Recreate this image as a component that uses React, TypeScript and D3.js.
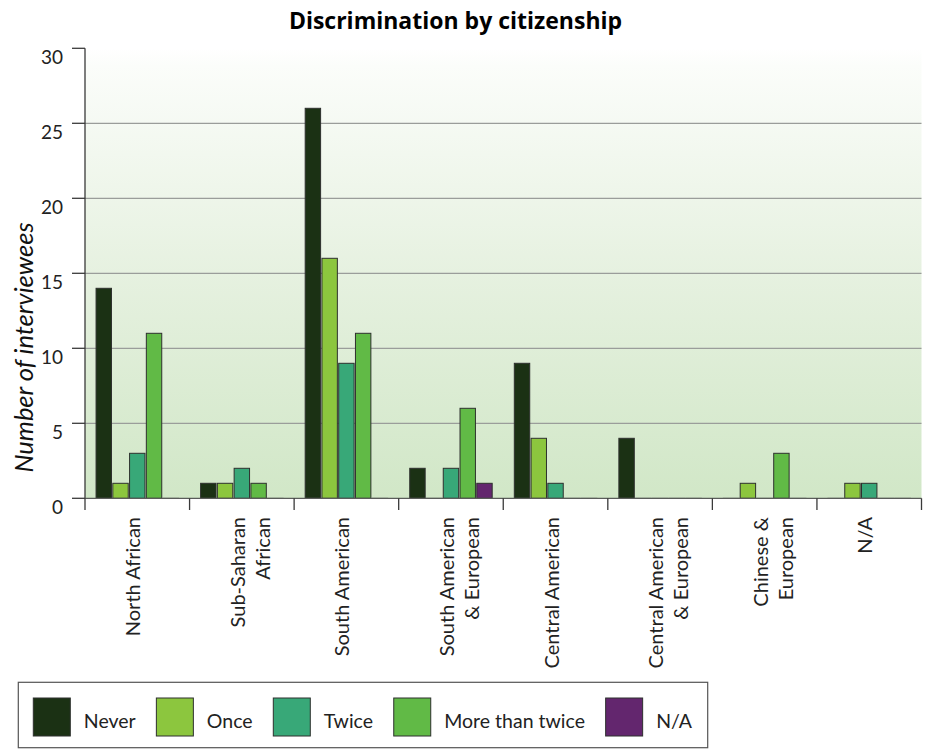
import React, { useEffect, useRef } from "react";
import * as d3 from "d3";

const categories = [
  "North African",
  "Sub-Saharan African",
  "South American",
  "South American & European",
  "Central American",
  "Central American & European",
  "Chinese & European",
  "N/A",
];
const categoryLines = [
  ["North African"],
  ["Sub-Saharan", "African"],
  ["South American"],
  ["South American", "& European"],
  ["Central American"],
  ["Central American", "& European"],
  ["Chinese &", "European"],
  ["N/A"],
];
const seriesNames = ["Never", "Once", "Twice", "More than twice", "N/A"];
const seriesColors = ["#1b3114", "#8cc63e", "#38a878", "#61ba46", "#63266e"];

const never = [14, 1, 26, 2, 9, 4, 0, 0];
const once = [1, 1, 16, 0, 4, 0, 1, 1];
const twice = [3, 2, 9, 2, 1, 0, 0, 1];
const moreThanTwice = [11, 1, 11, 6, 0, 0, 3, 0];
const notAvailable = [0, 0, 0, 1, 0, 0, 0, 0];
const seriesValues = [never, once, twice, moreThanTwice, notAvailable];

const yTicks = [0, 5, 10, 15, 20, 25, 30];

const FONT = "Lato, 'Open Sans', sans-serif";
const TITLE_FONT = "'Open Sans', sans-serif";

export default function App() {
  const ref = useRef<SVGSVGElement | null>(null);

  useEffect(() => {
    const svg = d3.select(ref.current);
    svg.selectAll("*").remove();

    const left = 85;
    const right = 921.5;
    const top = 48.3;
    const bottom = 498.3;

    const x = d3.scaleBand<string>().domain(categories).range([left, right]).paddingInner(0).paddingOuter(0);
    const x1 = d3
      .scaleBand<string>()
      .domain(seriesNames)
      .range([0, x.bandwidth()])
      .paddingInner(0.08)
      .paddingOuter(0.66);
    const y = d3.scaleLinear().domain([0, 30]).range([bottom, top]);

    const defs = svg.append("defs");
    const grad = defs
      .append("linearGradient")
      .attr("id", "bg")
      .attr("x1", 0)
      .attr("y1", 0)
      .attr("x2", 0)
      .attr("y2", 1);
    grad.append("stop").attr("offset", "0").attr("stop-color", "#ffffff");
    grad.append("stop").attr("offset", "0.04").attr("stop-color", "#fbfdfa");
    grad.append("stop").attr("offset", "0.5").attr("stop-color", "#e6f1e0");
    grad.append("stop").attr("offset", "1").attr("stop-color", "#d1e7c7");

    svg
      .append("rect")
      .attr("x", left)
      .attr("y", top)
      .attr("width", right - left)
      .attr("height", bottom - top)
      .attr("fill", "url(#bg)");

    // gridlines
    svg
      .append("g")
      .selectAll("line")
      .data(yTicks.filter((t) => t > 0 && t < 30))
      .join("line")
      .attr("x1", left)
      .attr("x2", right)
      .attr("y1", (d) => y(d))
      .attr("y2", (d) => y(d))
      .attr("stroke", "#9a9d9a")
      .attr("stroke-width", 1.3);

    // title
    svg
      .append("text")
      .attr("x", 455.5)
      .attr("y", 28.5)
      .attr("text-anchor", "middle")
      .attr("font-family", TITLE_FONT)
      .attr("font-weight", "bold")
      .attr("font-size", 23)
      .attr("fill", "#000")
      .text("Discrimination by citizenship");

    // bars
    const groups = svg
      .append("g")
      .selectAll("g")
      .data(categories)
      .join("g")
      .attr("transform", (d) => `translate(${x(d)},0)`);

    groups
      .selectAll("rect")
      .data((c) => seriesNames.map((s, si) => ({ s, si, v: seriesValues[si][categories.indexOf(c)] })))
      .join("rect")
      .attr("x", (d) => x1(d.s)!)
      .attr("y", (d) => y(d.v))
      .attr("width", x1.bandwidth())
      .attr("height", (d) => Math.max(0.01, bottom - y(d.v)))
      .attr("fill", (d) => seriesColors[d.si])
      .attr("stroke", (d) => (d.v === 0 ? "#6d706d" : "#2e302e"))
      .attr("stroke-width", 1);

    // y axis
    const yAxis = svg.append("g");
    yAxis
      .append("line")
      .attr("x1", left)
      .attr("x2", left)
      .attr("y1", top)
      .attr("y2", bottom)
      .attr("stroke", "#3a3a3a")
      .attr("stroke-width", 1.3);
    yAxis
      .selectAll("line.tick")
      .data(yTicks)
      .join("line")
      .attr("class", "tick")
      .attr("x1", 72)
      .attr("x2", left)
      .attr("y1", (d) => y(d))
      .attr("y2", (d) => y(d))
      .attr("stroke", "#3a3a3a")
      .attr("stroke-width", 1.3);
    yAxis
      .selectAll("text")
      .data(yTicks)
      .join("text")
      .attr("x", 63)
      .attr("y", (d) => y(d) + 15.5)
      .attr("text-anchor", "end")
      .attr("font-family", FONT)
      .attr("font-size", 19)
      .attr("fill", "#222")
      .text((d) => String(d));

    svg
      .append("text")
      .attr("transform", `translate(33,${(223 + 472) / 2}) rotate(-90)`)
      .attr("text-anchor", "middle")
      .attr("font-family", FONT)
      .attr("font-style", "italic")
      .attr("font-size", 25.5)
      .attr("fill", "#111")
      .text("Number of interviewees");

    // x axis
    const xAxis = svg.append("g");
    xAxis
      .append("line")
      .attr("x1", left)
      .attr("x2", right)
      .attr("y1", bottom)
      .attr("y2", bottom)
      .attr("stroke", "#5a5c5a")
      .attr("stroke-width", 1.3);
    const boundaries = categories.map((c) => x(c)!).concat([right]);
    xAxis
      .selectAll("line.tick")
      .data(boundaries)
      .join("line")
      .attr("class", "tick")
      .attr("x1", (d) => d)
      .attr("x2", (d) => d)
      .attr("y1", bottom)
      .attr("y2", 510)
      .attr("stroke", "#3a3a3a")
      .attr("stroke-width", 1.3);

    const labels = xAxis
      .selectAll("text")
      .data(categories)
      .join("text")
      .attr("transform", (d) => `translate(${x(d)! + x.bandwidth() / 2 + 3},517) rotate(-90)`)
      .attr("text-anchor", "end")
      .attr("font-family", FONT)
      .attr("font-size", 20)
      .attr("fill", "#222");
    labels.each(function (d, i) {
      const t = d3.select(this);
      categoryLines[i].forEach((line, li) => {
        t.append("tspan")
          .attr("x", 0)
          .attr("y", li * 25)
          .text(line);
      });
    });

    // legend
    const lg = svg.append("g");
    lg.append("rect")
      .attr("x", 18.3)
      .attr("y", 682.3)
      .attr("width", 707.7 - 18.3)
      .attr("height", 65.4)
      .attr("fill", "#fff")
      .attr("stroke", "#555")
      .attr("stroke-width", 1.2);
    let cx = 33.3;
    seriesNames.forEach((name, i) => {
      lg.append("rect")
        .attr("x", cx)
        .attr("y", 698)
        .attr("width", 37)
        .attr("height", 38)
        .attr("fill", seriesColors[i])
        .attr("stroke", "#2e302e")
        .attr("stroke-width", 1);
      const txt = lg
        .append("text")
        .attr("x", cx + 50.5)
        .attr("y", 728)
        .attr("font-family", FONT)
        .attr("font-size", 19.5)
        .attr("fill", "#222")
        .text(name);
      const w = (txt.node() as SVGTextElement).getComputedTextLength();
      cx = cx + 50.5 + w + 20.7;
    });
  }, []);

  return (
    <svg
      ref={ref}
      width={931}
      height={750}
      style={{ position: "absolute", left: 0, top: 0, background: "#fff" }}
    />
  );
}
